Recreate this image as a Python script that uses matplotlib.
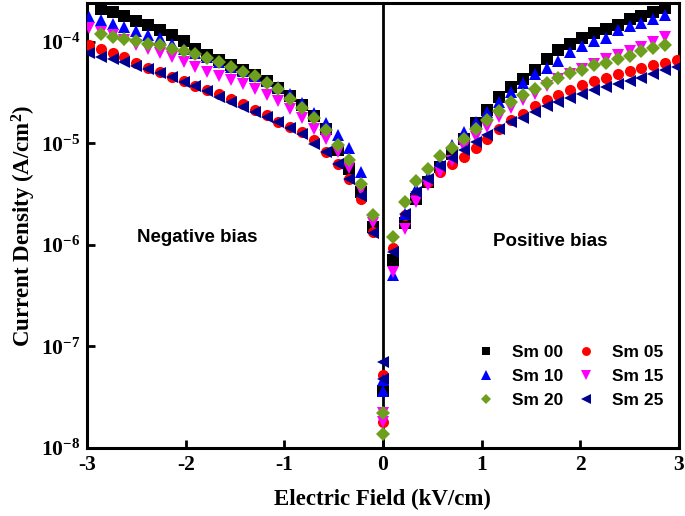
import numpy as np
import matplotlib
matplotlib.use("Agg")
import matplotlib.pyplot as plt

plt.rcParams['font.family'] = 'Liberation Serif'
plt.rcParams['font.weight'] = 'bold'
plt.rcParams['mathtext.fontset'] = 'custom'
plt.rcParams['mathtext.rm'] = 'Liberation Serif:bold'
plt.rcParams['mathtext.bf'] = 'Liberation Serif:bold'
plt.rcParams['mathtext.default'] = 'bf'
plt.rcParams['axes.unicode_minus'] = False

# electric field points (kV/cm)
x_neg = [-2.98, -2.86, -2.74, -2.62, -2.50, -2.38, -2.26, -2.14, -2.02, -1.90, -1.78, -1.66, -1.54,
         -1.42, -1.30, -1.18, -1.06, -0.94, -0.82, -0.70, -0.58, -0.46, -0.34, -0.22, -0.10]
x_pos = [0.10, 0.22, 0.34, 0.46, 0.58, 0.70, 0.82, 0.94, 1.06, 1.18, 1.30, 1.42, 1.54,
         1.66, 1.78, 1.90, 2.02, 2.14, 2.26, 2.38, 2.50, 2.62, 2.74, 2.86, 2.98]
x_zero = [0.0, 0.0]
nan = np.nan

# current density (A/cm^2)
sm00_neg = [nan, 2.13e-4, 1.98e-4, 1.79e-4, 1.61e-4, 1.46e-4, 1.30e-4, 1.16e-4, 1.02e-4, 8.6e-5, 7.45e-5, 6.65e-5, 5.9e-5,
            5.3e-5, 4.73e-5, 4.1e-5, 3.5e-5, 2.94e-5, 2.4e-5, 1.87e-5, 1.39e-5, 8.63e-6, 5.61e-6, 3.33e-6, 1.50e-6]
sm00_pos = [7.1e-7, 1.65e-6, 2.84e-6, 4.18e-6, 5.87e-6, 7.88e-6, 1.11e-5, 1.57e-5, 2.11e-5, 2.87e-5, 3.6e-5, 4.3e-5, 5.3e-5,
            6.75e-5, 8.3e-5, 9.6e-5, 1.09e-4, 1.21e-4, 1.35e-4, 1.46e-4, 1.67e-4, 1.80e-4, 1.98e-4, 2.16e-4, nan]
sm00_zero = [3.6e-8, nan]

sm05_neg = [9.4e-5, 8.6e-5, 7.8e-5, 7.1e-5, 6.2e-5, 5.5e-5, 5.1e-5, 4.5e-5, 4.1e-5, 3.7e-5, 3.37e-5, 3.08e-5, 2.74e-5,
            2.47e-5, 2.12e-5, 1.9e-5, 1.63e-5, 1.46e-5, 1.30e-5, 1.08e-5, 8.25e-6, 6.33e-6, 4.5e-6, 2.86e-6, 1.34e-6]
sm05_pos = [9.3e-7, 1.98e-6, 3.2e-6, 4.18e-6, 5.24e-6, 6.28e-6, 7.36e-6, 9.03e-6, 1.11e-5, 1.40e-5, 1.69e-5, 1.95e-5, 2.34e-5,
            2.68e-5, 3.0e-5, 3.37e-5, 3.77e-5, 4.1e-5, 4.4e-5, 4.85e-5, 5.2e-5, 5.5e-5, 5.9e-5, 6.2e-5, 6.6e-5]
sm05_zero = [5.2e-8, 1.8e-8]

sm10_neg = [1.76e-4, 1.64e-4, 1.51e-4, 1.41e-4, 1.27e-4, 1.16e-4, 1.08e-4, 9.6e-5, 8.5e-5, 7.8e-5, 7.1e-5, 6.35e-5, 5.7e-5,
            5.2e-5, 4.6e-5, 4.1e-5, 3.6e-5, 3.1e-5, 2.5e-5, 1.97e-5, 1.59e-5, 1.2e-5, 9.03e-6, 5.24e-6, nan]
sm10_pos = [5.0e-7, 2.03e-6, 3.59e-6, 4.68e-6, 6.58e-6, 9.73e-6, 1.30e-5, 1.61e-5, 2.04e-5, 2.56e-5, 3.18e-5, 3.9e-5, 4.8e-5,
            5.5e-5, 6.5e-5, 8.0e-5, 9.1e-5, 1.01e-4, 1.09e-4, 1.30e-4, 1.44e-4, 1.54e-4, 1.67e-4, 1.83e-4, nan]
sm10_zero = [4.7e-8, 3.6e-8]

sm15_neg = [1.37e-4, 1.25e-4, 1.16e-4, 1.04e-4, 9.4e-5, 8.6e-5, 7.8e-5, 7.1e-5, 6.35e-5, 5.7e-5, 5.1e-5, 4.6e-5, 4.2e-5,
            3.86e-5, 3.4e-5, 3.03e-5, 2.6e-5, 2.2e-5, 1.78e-5, 1.40e-5, 1.11e-5, 8.25e-6, 5.74e-6, 3.46e-6, 1.66e-6]
sm15_pos = [5.4e-7, 1.45e-6, 2.65e-6, 3.87e-6, 5.24e-6, 6.73e-6, 9.24e-6, 1.16e-5, 1.46e-5, 1.82e-5, 2.24e-5, 2.65e-5, 3.08e-5,
            3.7e-5, 4.3e-5, 4.85e-5, 5.4e-5, 6.1e-5, 6.8e-5, 7.45e-5, 8.2e-5, 8.9e-5, 1.0e-4, 1.12e-4, nan]
sm15_zero = [2.2e-8, 1.8e-8]

sm20_neg = [nan, 1.20e-4, 1.12e-4, 1.06e-4, 1.02e-4, 9.6e-5, 9.3e-5, 8.6e-5, 8.1e-5, 7.6e-5, 7.0e-5, 6.35e-5, 5.7e-5,
            5.1e-5, 4.6e-5, 3.97e-5, 3.4e-5, 2.76e-5, 2.24e-5, 1.76e-5, 1.36e-5, 9.73e-6, 6.83e-6, 4.02e-6, 1.99e-6]
sm20_pos = [1.20e-6, 2.65e-6, 4.25e-6, 5.65e-6, 7.48e-6, 9.03e-6, 1.11e-5, 1.38e-5, 1.69e-5, 2.08e-5, 2.56e-5, 2.97e-5, 3.4e-5,
            3.97e-5, 4.4e-5, 4.95e-5, 5.3e-5, 5.9e-5, 6.2e-5, 6.8e-5, 7.3e-5, 8.1e-5, 8.7e-5, 9.3e-5, nan]
sm20_zero = [2.2e-8, 1.37e-8]

sm25_neg = [7.8e-5, 7.1e-5, 6.8e-5, 6.35e-5, 5.8e-5, 5.4e-5, 4.95e-5, 4.5e-5, 4.0e-5, 3.7e-5, 3.27e-5, 2.87e-5, 2.56e-5,
            2.29e-5, 2.04e-5, 1.82e-5, 1.63e-5, 1.42e-5, 1.25e-5, 9.95e-6, 8.25e-6, 6.28e-6, 4.5e-6, 3.04e-6, 1.31e-6]
sm25_pos = [8.5e-7, 2.02e-6, 3.33e-6, 4.47e-6, 6.0e-6, 7.2e-6, 8.57e-6, 1.03e-5, 1.2e-5, 1.40e-5, 1.63e-5, 1.76e-5, 2.04e-5,
            2.34e-5, 2.56e-5, 2.8e-5, 3.08e-5, 3.37e-5, 3.6e-5, 3.86e-5, 4.1e-5, 4.4e-5, 4.85e-5, 5.3e-5, 5.7e-5]
sm25_zero = [7.0e-8, 4.8e-8]

labels = ["Sm 00", "Sm 05", "Sm 10", "Sm 15", "Sm 20", "Sm 25"]
series = [(sm00_neg, sm00_zero, sm00_pos), (sm05_neg, sm05_zero, sm05_pos), (sm10_neg, sm10_zero, sm10_pos),
          (sm15_neg, sm15_zero, sm15_pos), (sm20_neg, sm20_zero, sm20_pos), (sm25_neg, sm25_zero, sm25_pos)]
markers = ['s', 'o', '^', 'v', 'D', '<']
colors = ['#000000', '#ff0000', '#0000ff', '#ff00ff', '#6e9e1e', '#000090']
sizes = [8, 8, 8.5, 8.5, 7, 8.5]

fig = plt.figure(figsize=(6.85, 5.16), dpi=100)
ax = fig.add_axes([0.127, 0.132, 0.864, 0.862])

xs = x_neg + x_zero + x_pos
handles = {}
for lab, (yn, yz, yp), m, c, s in zip(labels, series, markers, colors, sizes):
    ys = yn + yz + yp
    h, = ax.plot(xs, ys, ls='', marker=m, color=c, ms=s, mew=0, zorder=3)
    handles[lab] = h

ax.axvline(0, color='k', lw=2, zorder=2)

ax.set_yscale('log')
ax.set_xlim(-3, 3)
ax.set_ylim(1e-8, 2.41e-4)
ax.set_xticks([-3, -2, -1, 0, 1, 2, 3])
ax.set_xticklabels(['-3', '-2', '-1', '0', '1', '2', '3'])
ax.set_yticks([1e-8, 1e-7, 1e-6, 1e-5, 1e-4])
ax.set_yticklabels([r'$10^{-8}$', r'$10^{-7}$', r'$10^{-6}$', r'$10^{-5}$', r'$10^{-4}$'])
ax.minorticks_off()
ax.tick_params(direction='in', length=6, width=2, labelsize=15.5, top=False, right=False, pad=5)
for sp in ax.spines.values():
    sp.set_linewidth(2.2)

ax.set_xlabel('Electric Field (kV/cm)', fontsize=16.5, fontweight='bold', labelpad=10)
ax.set_ylabel(r'Current Density (A/cm$^2$)', fontsize=16.5, fontweight='bold', labelpad=2)

ax.text(-2.49, 1.17e-6, 'Negative bias', fontsize=13.5, fontweight='bold', family='Liberation Sans',
        va='center', ha='left')
ax.text(1.12, 1.07e-6, 'Positive bias', fontsize=13.5, fontweight='bold', family='Liberation Sans',
        va='center', ha='left')

order = ["Sm 00", "Sm 10", "Sm 20", "Sm 05", "Sm 15", "Sm 25"]
ax.legend([handles[k] for k in order], order, ncol=2, frameon=False, loc='lower right',
          bbox_to_anchor=(1.0, 0.055), prop={'family': 'Liberation Sans', 'weight': 'bold', 'size': 12.5},
          handletextpad=0.9, columnspacing=0.7, labelspacing=0.5, handlelength=1.2, markerscale=0.8)

fig.savefig('out.png', dpi=100)
